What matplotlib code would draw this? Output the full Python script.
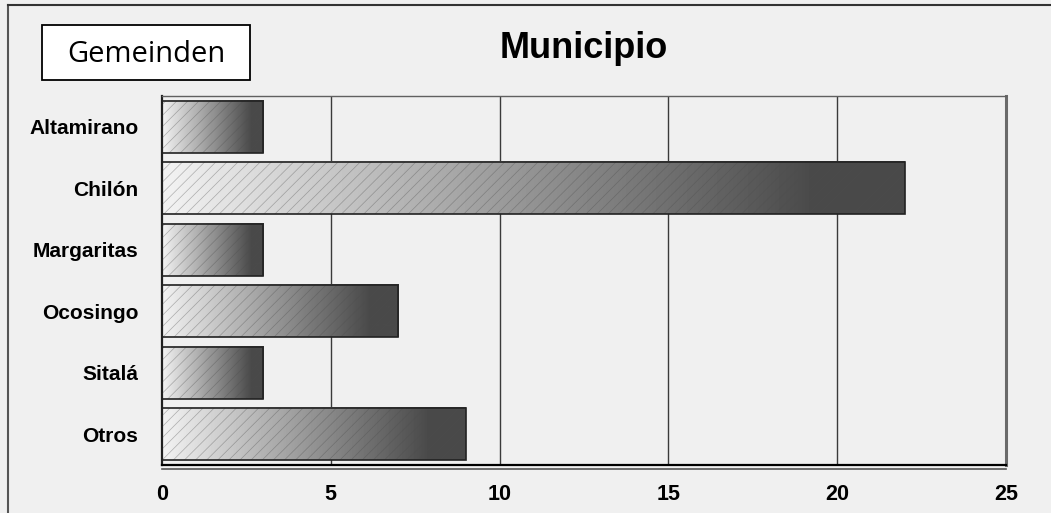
import numpy as np
import matplotlib
matplotlib.use('Agg')
import matplotlib.pyplot as plt
from matplotlib.lines import Line2D
from matplotlib.patches import Rectangle
import matplotlib.transforms as mtransforms

# data
municipios = ['Altamirano', 'Chilón', 'Margaritas', 'Ocosingo', 'Sitalá', 'Otros']
valores = [3, 22, 3, 7, 3, 9]
xticks = [0, 5, 10, 15, 20, 25]

bg = '#f0f0f0'
plt.rcParams['hatch.linewidth'] = 0.5

fig = plt.figure(figsize=(10.51, 5.13), dpi=100, facecolor=bg)
ax = fig.add_axes([162 / 1051, 1 - 465 / 513, (1006 - 162) / 1051, (465 - 96) / 513])
ax.set_facecolor(bg)

# grid lines behind bars
for xv in xticks[1:-1]:
    ax.axvline(xv, color='#3a3a3a', lw=1.0, zorder=1)

# gradient: light to dark, last part solid
grad = np.concatenate([np.linspace(0.95, 0.29, 88), np.full(12, 0.29)])
grad_img = np.tile(grad, (2, 1))

h = 0.85
for i, v in enumerate(valores):
    y0 = i - h / 2
    y1 = i + h / 2
    ax.imshow(grad_img, cmap='gray', vmin=0, vmax=1, aspect='auto',
              extent=[0, v, y1, y0], interpolation='bilinear', zorder=2)
    ax.add_patch(Rectangle((0, y0), v, h, facecolor='none', hatch='///',
                           edgecolor=(0.3, 0.3, 0.3, 0.4), lw=0, zorder=3))
    ax.add_patch(Rectangle((0, y0), v, h, facecolor='none',
                           edgecolor='#222222', lw=1.2, zorder=4))

ax.set_xlim(0, 25)
ax.set_ylim(len(municipios) - 0.5, -0.5)

ax.set_yticks(range(len(municipios)))
ax.set_yticklabels(municipios, fontfamily='Liberation Sans', fontweight='bold', fontsize=15)
ax.set_xticks(xticks)
ax.set_xticklabels([str(t) for t in xticks], fontfamily='Liberation Sans', fontweight='bold', fontsize=15.5)
ax.tick_params(axis='y', length=0, pad=17)
ax.tick_params(axis='x', length=0, pad=14)

ax.spines['top'].set_color('#606060')
ax.spines['top'].set_linewidth(1.0)
ax.spines['right'].set_color('#6a6a6a')
ax.spines['right'].set_linewidth(2.2)
ax.spines['left'].set_color('#202020')
ax.spines['left'].set_linewidth(1.6)
ax.spines['bottom'].set_color('#000000')
ax.spines['bottom'].set_linewidth(1.6)

# second, lower line of the double base line
off = mtransforms.offset_copy(ax.transAxes, fig=fig, x=0, y=-3.5, units='dots')
ax.plot([0, 1], [0, 0], transform=off, color='#555555', lw=1.2, clip_on=False, zorder=5)

fig.text(584 / 1051, 1 - 49 / 513, 'Municipio', ha='center', va='center',
         fontfamily='Liberation Sans', fontweight='bold', fontsize=26)

# "Gemeinden" box
fig.add_artist(Rectangle((42 / 1051, 1 - 80 / 513), 208 / 1051, 55 / 513, transform=fig.transFigure,
                         facecolor='white', edgecolor='black', lw=1.3))
fig.text(146 / 1051, 1 - 54 / 513, 'Gemeinden', ha='center', va='center',
         fontfamily='Open Sans', fontsize=21)

# outer frame lines (left and top)
fig.add_artist(Line2D([8 / 1051, 8 / 1051], [0, 1 - 5 / 513], transform=fig.transFigure, color='#555555', lw=1.5))
fig.add_artist(Line2D([8 / 1051, 1], [1 - 5 / 513, 1 - 5 / 513], transform=fig.transFigure, color='#333333', lw=1.5))

fig.savefig('out.png', dpi=100, facecolor=bg)
